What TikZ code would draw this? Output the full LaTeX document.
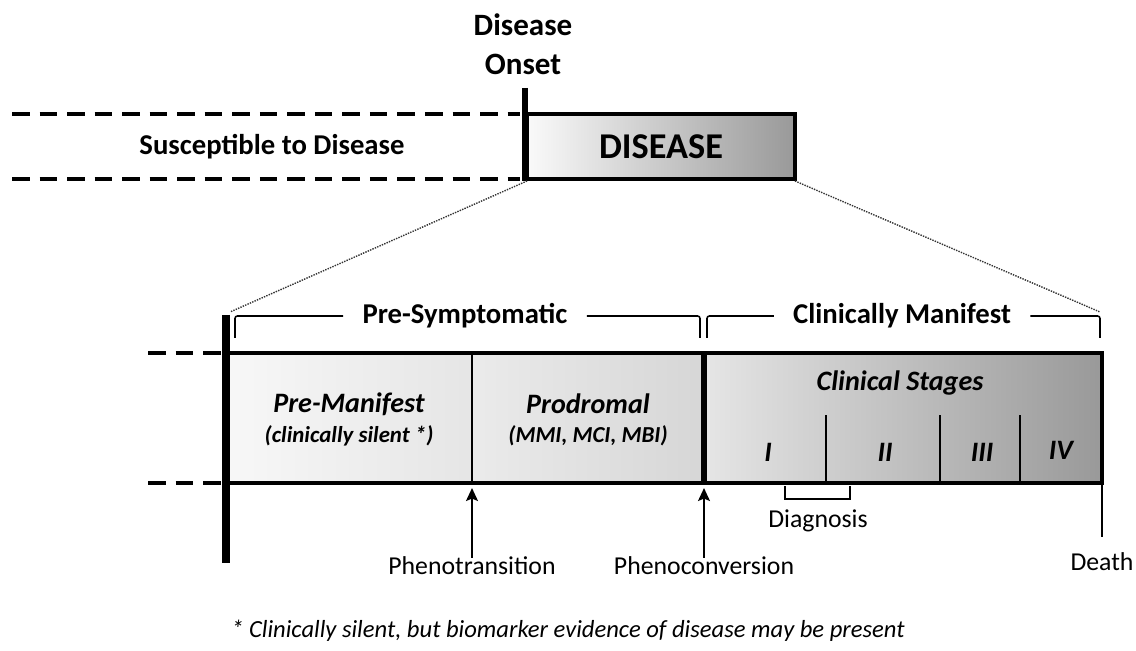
\documentclass[tikz,border=0pt]{standalone}
\usepackage{fontspec}
\setmainfont{Carlito}
\usetikzlibrary{positioning, arrows.meta}
\tikzset{>={Stealth[length=11pt, width=10pt, inset=2pt]}}
\tikzset{
  head/.style={font=\fontsize{24.5}{27}\selectfont\bfseries},
  phase/.style={font=\fontsize{24}{27}\selectfont\bfseries\itshape},
  sub/.style={font=\fontsize{19.5}{22}\selectfont\bfseries\itshape},
  tag/.style={font=\fontsize{22}{24}\selectfont},
  dashline/.style={line width=2.8pt, dash pattern=on 15pt off 8.5pt},
  zoomline/.style={densely dotted, line width=1.2pt, black!80},
  frame/.style={line width=2.8pt},
  brace/.style={line width=1.3pt, rounded corners=2pt},
}
\begin{document}
\begin{tikzpicture}[x=0.03cm, y=-0.03cm]
     \useasboundingbox (0,0) rectangle (1136,651);
     % top timeline
     \shade[left color=black!2, right color=black!40] (527,114) rectangle (795,179);
     \draw[frame] (527,114) rectangle (795,179);
     \draw[dashline] (12,114) -- (520,114);
     \draw[dashline] (12,179) -- (520,179);
     \draw[line width=5.5pt] (525,88) -- (525,181);
     \node[font=\fontsize{26.5}{33}\selectfont\bfseries, align=center] (onset) at (523,44) {Disease\\Onset};
     \node[head] (suscept) at (272,147) {Susceptible to Disease};
     \node[font=\fontsize{31}{34}\selectfont\bfseries] (disease) at (661,147) {DISEASE};
     \draw[zoomline] (527,181) -- (230,312);
     \draw[zoomline] (795,181) -- (1100,312);
     % lower timeline
     \shade[left color=black!3, right color=black!10] (228,353) rectangle (472,483);
     \shade[left color=black!8, right color=black!16] (472,353) rectangle (704,483);
     \shade[left color=black!10, right color=black!40] (704,353) rectangle (1102,483);
     \draw[frame] (228,353) rectangle (1102,483);
     \draw[line width=2pt] (472,353) -- (472,483);
     \draw[line width=5pt] (704,353) -- (704,483);
     \foreach \x in {826,940,1020}
          \draw[line width=2.4pt] (\x,415) -- (\x,483);
     \draw[line width=6pt] (226,315) -- (226,563);
     \draw[dashline] (148,353) -- (222,353);
     \draw[dashline] (148,483) -- (222,483);
     % brackets
     \node[head] (presym) at (465,316) {Pre-Symptomatic};
     \draw[brace] ([xshift=-13pt]presym.west) -| (235,338);
     \draw[brace] ([xshift=13pt]presym.east) -| (700,338);
     \node[head] (clinman) at (902,316) {Clinically Manifest};
     \draw[brace] ([xshift=-13pt]clinman.west) -| (707,338);
     \draw[brace] ([xshift=13pt]clinman.east) -| (1100,338);
     % phases
     \node[phase] (premani) at (349,404) {Pre-Manifest};
     \node[sub] (silent) at (349,436) {(clinically silent *)};
     \node[phase] (prodro) at (588,404) {Prodromal};
     \node[sub] (mci) at (588,436) {(MMI, MCI, MBI)};
     \node[phase] (clinst) at (900,383) {Clinical Stages};
     \node[phase] (st1) at (768,452) {I};
     \node[phase] (st2) at (885,452) {II};
     \node[phase] (st3) at (982,452) {III};
     \node[phase] (st4) at (1061,450) {IV};
     % markers
     \draw[line width=1.6pt] (785,486) -- (785,499) -- (850,499) -- (850,486);
     \node[tag] (diag) at (818,521) {Diagnosis};
     \node[tag] (phtrans) at (472,566) {Phenotransition};
     \node[tag] (phconv) at (704,566) {Phenoconversion};
     \coordinate (trans) at (472,488);
     \coordinate (conv) at (704,488);
     \draw[->, line width=2.5pt] ([yshift=-4pt]phtrans.north) -- (trans);
     \draw[->, line width=2.5pt] ([yshift=-4pt]phconv.north) -- (conv);
     \node[tag] (death) at (1102,562) {Death};
     \coordinate (end) at (1102,537);
     \draw[line width=2.4pt] (1102,483) -- (end);
     \node[font=\fontsize{21}{24}\selectfont\itshape] (foot) at (568,631) {* Clinically silent, but biomarker evidence of disease may be present};
\end{tikzpicture}
\end{document}
